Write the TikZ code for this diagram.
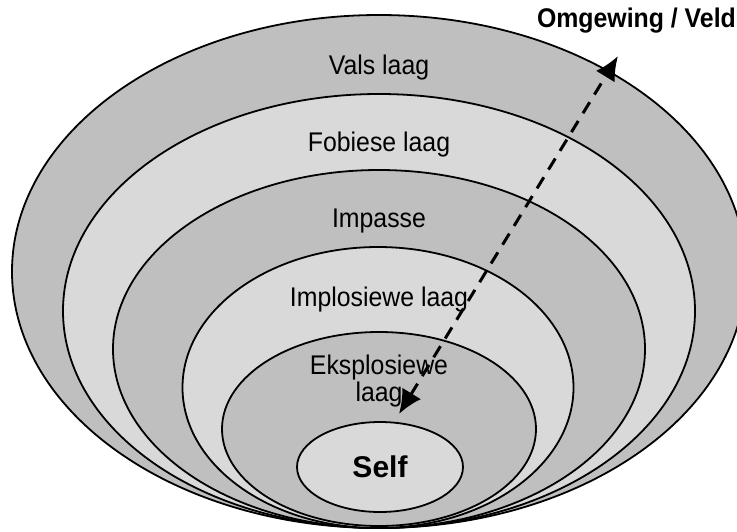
\documentclass[tikz,border=0pt]{standalone}
\usepackage{fontspec}
\setmainfont{Liberation Sans}
\newfontfamily\condfont{Liberation Sans}[FakeStretch=0.92]
\usetikzlibrary{shapes.geometric,arrows.meta}
\definecolor{darklayer}{RGB}{191,191,191}
\definecolor{lightlayer}{RGB}{217,217,217}
\tikzset{
  layer/.style={ellipse, draw=black, line width=1.8pt, inner sep=0pt},
  darkl/.style={layer, fill=darklayer},
  lightl/.style={layer, fill=lightlayer},
  lab/.style={font=\condfont\fontsize{27}{27}\selectfont, align=center, inner sep=0pt},
  boldlab/.style={font=\condfont\bfseries\fontsize{27}{27}\selectfont, inner sep=0pt},
  selflab/.style={font=\bfseries\fontsize{30}{32}\selectfont, inner sep=0pt},
  flowarrow/.style={line width=3pt, dash pattern=on 13pt off 9pt,
    {Latex[length=24pt,width=22pt]}-{Latex[length=24pt,width=22pt]}}
}
\begin{document}
\begin{tikzpicture}[x=1pt,y=-1pt]
\useasboundingbox (0,0) rectangle (737,531);
\clip (0,0) rectangle (737,531);
\node[darkl, minimum width=734pt, minimum height=513pt] (vals) at (379,271.5) {};
\node[lightl, minimum width=632pt, minimum height=434pt] (fob) at (379,311) {};
\node[darkl, minimum width=532pt, minimum height=358pt] (imp) at (379,349) {};
\node[lightl, minimum width=391pt, minimum height=281pt] (impl) at (378,387.5) {};
\node[darkl, minimum width=314pt, minimum height=194pt] (eks) at (379,429) {};
\node[lightl, minimum width=166pt, minimum height=90pt] (self) at (380,467) {};
\node[lab] (tvals) at (379,68) {Vals laag};
\node[lab] (tfob) at (379,145) {Fobiese laag};
\node[lab] (timp) at (379,221) {Impasse};
\node[lab] (timpl) at (379,300) {Implosiewe laag};
\node[lab] (teks) at (379,381) {Eksplosiewe\\laag};
\node[selflab] (tself) at (380,467) {Self};
\node[boldlab, anchor=east] (omg) at (736,21) {Omgewing / Veld};
\coordinate (abot) at (399,414);
\coordinate (atop) at (618,56);
\draw[flowarrow] (abot) -- (atop);
\end{tikzpicture}
\end{document}
